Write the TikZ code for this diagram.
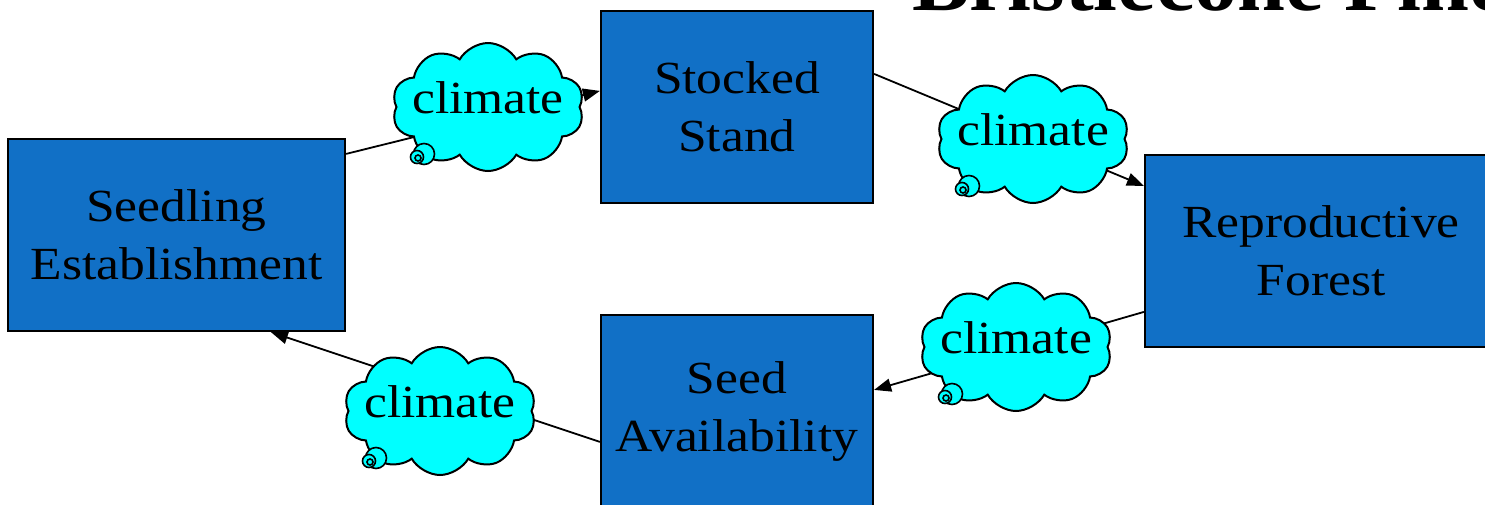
\documentclass[tikz,border=0pt]{standalone}
\usepackage{fontspec}
\usetikzlibrary{shapes.symbols,arrows.meta}
\newfontfamily\labfont[FakeStretch=1.12]{Liberation Serif}
\newfontfamily\titlefont[FakeStretch=1.05]{Liberation Serif}
\definecolor{boxblue}{HTML}{1170C6}
\definecolor{cloudcyan}{HTML}{00FFFF}
\tikzset{
  stagebox/.style={draw=black, line width=2.2pt, fill=boxblue, inner sep=0pt,
    align=center, font=\labfont\fontsize{46}{58}\selectfont},
  conn/.style={draw=black, line width=1.8pt, -{Triangle[length=17pt,width=13pt]}},
  cloudshape/.style={shape=cloud, draw=black, line width=2pt, fill=cloudcyan,
    cloud puffs=10, cloud puff arc=120, cloud ignores aspect,
    minimum width=192pt, minimum height=128pt, inner sep=0pt},
  cloudtext/.style={anchor=base, inner sep=0pt, font=\labfont\fontsize{46}{58}\selectfont},
  tail/.style={draw=black, line width=1.6pt, fill=cloudcyan}
}
\begin{document}
\begin{tikzpicture}[x=1pt,y=-1pt]
\useasboundingbox (0,0) rectangle (1485,504);
\clip (0,0) rectangle (1485,504);
\fill[white] (0,0) rectangle (1485,504);
% title
\node[anchor=base west, inner sep=0pt, font=\titlefont\bfseries\fontsize{82}{94}\selectfont] (title) at (912,10) {Bristlecone Pine};
% boxes
\node[stagebox, minimum width=337pt, minimum height=192pt] (seed) at (176.5,235) {Seedling\\Establishment};
\node[stagebox, minimum width=272pt, minimum height=192pt] (stock) at (737,107) {Stocked\\Stand};
\node[stagebox, minimum width=352pt, minimum height=192pt] (repro) at (1321,251) {Reproductive\\Forest};
\node[stagebox, minimum width=272pt, minimum height=192pt] (avail) at (737,411) {Seed\\Availability};
% connectors
\draw[conn] ([yshift=-16pt]seed.north east) -- ([yshift=-81pt]stock.north west);
\draw[conn] ([yshift=-64pt]stock.north east) -- ([yshift=-32pt]repro.north west);
\draw[conn] ([yshift=-158pt]repro.north west) -- ([yshift=-76pt]avail.north east);
\draw[conn] ([yshift=-128pt]avail.north west) -- ([xshift=264pt]seed.south west);
% clouds
\foreach \n/\x/\y in {c1/488/107, c2/1033/139, c3/1016/347, c4/440/411}{
  \node[cloudshape] (\n) at (\x,\y) {};
  \draw[tail] ([xshift=-64pt,yshift=-47pt]\n.center) circle (10.5pt);
  \draw[tail] ([xshift=-71pt,yshift=-50pt]\n.center) circle (6.5pt);
  \draw[tail] ([xshift=-70pt,yshift=-51pt]\n.center) circle (3pt);
  \node[cloudtext] (\n t) at ([yshift=-6pt]\n.center) {climate};
}
\end{tikzpicture}
\end{document}
